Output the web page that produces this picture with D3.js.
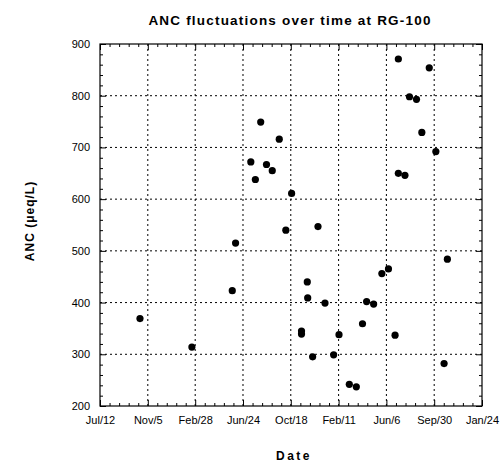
<!DOCTYPE html>
<html>
<head>
<meta charset="utf-8">
<script src="https://cdn.jsdelivr.net/npm/d3@7/dist/d3.min.js"></script>
<style>
  body { margin: 0; background: #fff; }
  text { font-family: "Liberation Sans", Arial, sans-serif; fill: #000; }
  .grid line { stroke: #000; stroke-width: 1; stroke-dasharray: 2,3; }
  .tick-label { font-size: 11px; }
  .title { font-weight: bold; font-size: 13.5px; letter-spacing: 1.2px; }
  .axis-title { font-weight: bold; font-size: 12px; letter-spacing: 1px; }
  .date-title { letter-spacing: 2.5px; }
</style>
</head>
<body>
<div id="chart"></div>
<script>
// Data
const sampleDates = [
  '1990-10-17', '1991-02-20', '1991-05-29', '1991-06-06', '1991-07-13', '1991-07-24',
  '1991-08-06', '1991-08-20', '1991-09-03', '1991-09-20', '1991-10-06', '1991-10-20',
  '1991-11-13', '1991-11-13', '1991-11-27', '1991-11-28', '1991-12-10', '1991-12-23',
  '1992-01-09', '1992-01-30', '1992-02-12', '1992-03-08', '1992-03-25', '1992-04-09',
  '1992-04-19', '1992-05-06', '1992-05-26', '1992-06-11', '1992-06-27', '1992-07-05',
  '1992-07-05', '1992-07-21', '1992-08-01', '1992-08-18', '1992-08-31', '1992-09-18',
  '1992-10-04', '1992-10-24', '1992-11-01'
];
const ancValues = [
  369, 314, 423, 515, 672, 638,
  749, 667, 655, 716, 540, 611,
  345, 339, 440, 409, 295, 547,
  399, 299, 338, 242, 237, 359,
  402, 397, 456, 465, 337, 871,
  650, 646, 798, 793, 729, 854,
  692, 282, 484
];
const xTickDates = ['1990-07-12', '1990-11-05', '1991-02-28', '1991-06-24', '1991-10-18',
  '1992-02-11', '1992-06-06', '1992-09-30', '1993-01-24'];
const xTickLabels = ['Jul/12', 'Nov/5', 'Feb/28', 'Jun/24', 'Oct/18', 'Feb/11', 'Jun/6', 'Sep/30', 'Jan/24'];
const yTicks = [200, 300, 400, 500, 600, 700, 800, 900];

function draw() {
    const parse = d3.timeParse('%Y-%m-%d');
    const dataset = sampleDates.map((d, i) => ({ date: parse(d), value: ancValues[i] }));
    const tickTimes = xTickDates.map(parse);

    let dimensions = {
        width: 502,
        height: 462,
        margins: { top: 44, right: 20, bottom: 56, left: 100 }
    };
    dimensions.containerWidth = dimensions.width - dimensions.margins.left - dimensions.margins.right;
    dimensions.containerHeight = dimensions.height - dimensions.margins.top - dimensions.margins.bottom;
    const w = dimensions.containerWidth, h = dimensions.containerHeight;

    const svg = d3.select('#chart')
        .append('svg')
        .attr('width', dimensions.width)
        .attr('height', dimensions.height);

    const container = svg.append('g')
        .attr('transform', `translate(${dimensions.margins.left}, ${dimensions.margins.top})`);

    // Scales
    const xScale = d3.scaleTime()
        .domain([tickTimes[0], tickTimes[tickTimes.length - 1]])
        .range([0, w]);
    const yScale = d3.scaleLinear()
        .domain([200, 900])
        .range([h, 0]);

    // minor ticks: 5 subdivisions per major interval
    const xMinor = [];
    for (let i = 0; i < tickTimes.length - 1; i++) {
        const a = +tickTimes[i], b = +tickTimes[i + 1];
        for (let k = 1; k < 5; k++) xMinor.push(new Date(a + (b - a) * k / 5));
    }
    const yMinor = d3.range(200, 901, 20).filter(v => v % 100 !== 0);

    // Grid
    const grid = container.append('g').classed('grid', true);
    grid.selectAll('.gx')
        .data(tickTimes.slice(1, -1))
        .join('line')
        .attr('x1', d => xScale(d)).attr('x2', d => xScale(d))
        .attr('y1', 0).attr('y2', h);
    grid.selectAll('.gy')
        .data(yTicks.slice(1, -1))
        .join('line')
        .attr('class', 'gy')
        .attr('x1', 0).attr('x2', w)
        .attr('y1', d => yScale(d)).attr('y2', d => yScale(d));

    // Axes (ticks inward)
    const bottom = d3.axisBottom(xScale).tickValues(tickTimes).tickSize(-6).tickFormat((d, i) => xTickLabels[i]).tickPadding(10);
    const top = d3.axisTop(xScale).tickValues(tickTimes).tickSize(-6).tickFormat('');
    const left = d3.axisLeft(yScale).tickValues(yTicks).tickSize(-6).tickPadding(10).tickFormat(d3.format('d'));
    const right = d3.axisRight(yScale).tickValues(yTicks).tickSize(-6).tickFormat('');

    const styleAxis = g => {
        g.select('.domain').remove();
        g.selectAll('.tick line').attr('stroke', '#000');
        g.selectAll('.tick text').attr('class', 'tick-label').attr('font-size', null).attr('font-family', null);
    };
    container.append('g').attr('transform', `translate(0, ${h})`).call(bottom).call(styleAxis);
    container.append('g').call(top).call(styleAxis);
    container.append('g').call(left).call(styleAxis);
    container.append('g').attr('transform', `translate(${w}, 0)`).call(right).call(styleAxis);

    container.append('g').attr('transform', `translate(0, ${h})`)
        .call(d3.axisBottom(xScale).tickValues(xMinor).tickSize(-3).tickFormat('')).call(styleAxis);
    container.append('g')
        .call(d3.axisTop(xScale).tickValues(xMinor).tickSize(-3).tickFormat('')).call(styleAxis);
    container.append('g')
        .call(d3.axisLeft(yScale).tickValues(yMinor).tickSize(-3).tickFormat('')).call(styleAxis);
    container.append('g').attr('transform', `translate(${w}, 0)`)
        .call(d3.axisRight(yScale).tickValues(yMinor).tickSize(-3).tickFormat('')).call(styleAxis);

    // Frame
    container.append('rect')
        .attr('width', w).attr('height', h)
        .attr('fill', 'none').attr('stroke', '#000').attr('stroke-width', 1.2);

    // Points
    container.selectAll('circle')
        .data(dataset)
        .join('circle')
        .attr('cx', d => xScale(d.date))
        .attr('cy', d => yScale(d.value))
        .attr('r', 3.6)
        .attr('fill', '#000');

    // Titles
    svg.append('text').classed('title', true)
        .attr('x', 290).attr('y', 25)
        .attr('text-anchor', 'middle')
        .text('ANC fluctuations over time at RG-100');
    svg.append('text').classed('axis-title', true).classed('date-title', true)
        .attr('x', 294).attr('y', 460)
        .attr('text-anchor', 'middle')
        .text('Date');
    svg.append('text').classed('axis-title', true)
        .attr('transform', `translate(34, ${dimensions.margins.top + h / 2 - 4}) rotate(-90)`)
        .attr('text-anchor', 'middle')
        .text('ANC (μeq/L)');
}

draw();
</script>
</body>
</html>
